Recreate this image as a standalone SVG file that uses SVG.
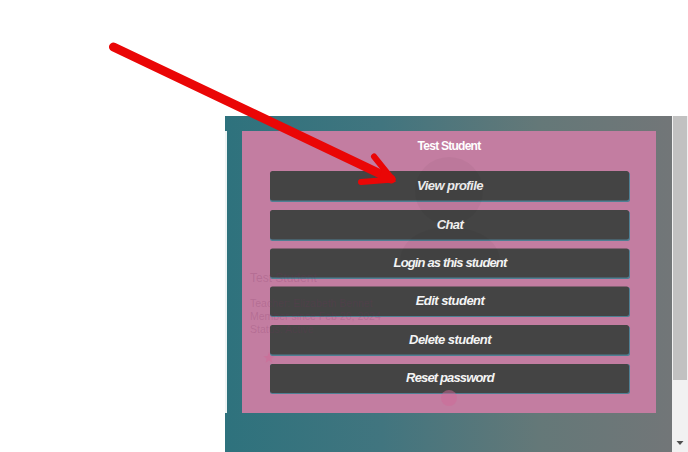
<svg xmlns="http://www.w3.org/2000/svg" width="688" height="452" viewBox="0 0 688 452">
<style>
.btn{fill:#444444;stroke:none}
.edge{fill:#4f7f93}
.lbl{font:italic 700 13px "Liberation Sans",Arial,sans-serif;fill:#f4f4f4;text-anchor:middle;letter-spacing:-.55px}
.ghost{font:10.500px "Liberation Sans",Arial,sans-serif;fill:#7a3060;fill-opacity:.2}
.ghostsil{fill:#000;fill-opacity:.035}
.arrow{fill:none;stroke:#ea0606;stroke-linecap:round;stroke-linejoin:round}
</style>
<defs>
<linearGradient id="bg" x1="225" y1="0" x2="672" y2="0" gradientUnits="userSpaceOnUse">
<stop offset="0" stop-color="#2e727d"/><stop offset=".35" stop-color="#41757f"/><stop offset=".7" stop-color="#647878"/><stop offset="1" stop-color="#727678"/>
</linearGradient>
</defs>
<rect width="688" height="452" fill="#fff"/>
<g id="panel">
<rect x="225" y="116" width="447" height="336" fill="url(#bg)"/>
<rect x="225" y="131" width="2" height="282" fill="#eef4f4"/>
<rect x="242" y="131" width="414" height="282" fill="#c37da1"/>
</g>
<text id="title" x="449" y="150" font-family="'Liberation Sans',Arial,sans-serif" font-size="12" font-weight="700" fill="#fff" text-anchor="middle" letter-spacing="-.75">Test Student</text>
<g id="btn-view"><rect class="edge" x="270" y="172" width="360" height="30" rx="2.500"/><rect class="btn" x="270" y="171" width="359" height="29.500" rx="2.500"/><text class="lbl" x="450" y="190">View profile</text></g>
<g id="btn-chat"><rect class="edge" x="270" y="211" width="360" height="30" rx="2.500"/><rect class="btn" x="270" y="210" width="359" height="29.500" rx="2.500"/><text class="lbl" x="450" y="228.500">Chat</text></g>
<g id="btn-login"><rect class="edge" x="270" y="249" width="360" height="30" rx="2.500"/><rect class="btn" x="270" y="248.500" width="359" height="29" rx="2.500"/><text class="lbl" x="450" y="267" style="letter-spacing:-.85px">Login as this student</text></g>
<g id="btn-edit"><rect class="edge" x="270" y="287" width="360" height="30" rx="2.500"/><rect class="btn" x="270" y="286.500" width="359" height="29.500" rx="2.500"/><text class="lbl" x="450" y="305">Edit student</text></g>
<g id="btn-delete"><rect class="edge" x="270" y="326" width="360" height="30" rx="2.500"/><rect class="btn" x="270" y="325" width="359" height="29.500" rx="2.500"/><text class="lbl" x="450" y="343.500">Delete student</text></g>
<g id="btn-reset"><rect class="edge" x="270" y="364" width="360" height="30" rx="2.500"/><rect class="btn" x="270" y="364" width="359" height="29" rx="2.500"/><text class="lbl" x="450" y="382" style="letter-spacing:-.85px">Reset password</text></g>
<g id="ghost-profile">
<circle cx="449" cy="191" r="34" class="ghostsil"/>
<path d="M400 262C400 238 425 227 449 227C473 227 500 238 500 262Z" class="ghostsil"/>
<text x="250" y="282" class="ghost" style="font-size:12px">Test Student</text>
<text x="250" y="307" class="ghost">Teacher: Elizabeth Bennet</text>
<text x="250" y="320" class="ghost">Member since Feb 20, 2024</text>
<text x="250" y="333" class="ghost">Status: Active</text>
<path d="M269 352l1.500 4 4 .2-3.200 2.500 1.100 4-3.400-2.300-3.400 2.300 1.100-4-3.200-2.500 4-.2z" fill="#cf6a98" fill-opacity=".6"/>
<circle cx="449" cy="398" r="8" fill="#cf6a98" fill-opacity=".5"/>
</g>
<g id="scrollbar">
<rect x="672" y="116" width="16" height="336" fill="#f1f1f1"/>
<rect x="673" y="116" width="14" height="264" fill="#c1c1c1"/>
<path d="M676.500 441h7l-3.500 4z" fill="#505050"/>
</g>
<g id="connectors">
<path class="arrow" stroke-width="9" d="M113.500 47L391 179"/>
<path class="arrow" stroke-width="6" d="M374 156.500L392.500 179.500L361 182"/>
<path d="M383 165L396 182L378 183Z" fill="#ea0606"/>
</g>
</svg>
